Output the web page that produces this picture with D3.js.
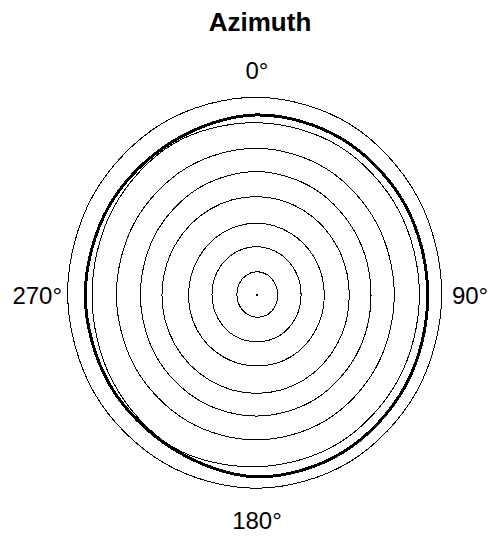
<!DOCTYPE html>
<html>
<head>
<meta charset="utf-8">
<script src="https://cdn.jsdelivr.net/npm/d3@7"></script>
<style>
  body { margin: 0; background: #fff; }
  text { font-family: "Liberation Sans", Arial, sans-serif; fill: #000; }
</style>
</head>
<body>
<div id="chart"></div>
<script>
var wt = 490;
var ht = 537;

// angles in degrees, clockwise from north
var angles = [0, 30, 60, 90, 120, 150, 180, 210, 240, 270, 300, 330];

// pattern cuts (normalised radius)
var cut1 = [0.120, 0.118, 0.113, 0.111, 0.113, 0.116, 0.115, 0.112, 0.109, 0.108, 0.112, 0.117];
var cut2 = [0.249, 0.245, 0.240, 0.237, 0.239, 0.242, 0.241, 0.243, 0.242, 0.242, 0.245, 0.248];
var cut3 = [0.370, 0.366, 0.363, 0.362, 0.364, 0.367, 0.366, 0.367, 0.369, 0.368, 0.368, 0.370];
var cut4 = [0.507, 0.503, 0.498, 0.496, 0.500, 0.505, 0.507, 0.508, 0.510, 0.511, 0.510, 0.509];
var cut5 = [0.636, 0.628, 0.618, 0.613, 0.617, 0.622, 0.624, 0.626, 0.628, 0.627, 0.630, 0.634];
var cut6 = [0.756, 0.750, 0.742, 0.738, 0.741, 0.745, 0.747, 0.750, 0.754, 0.756, 0.757, 0.757];
var cut7 = [0.888, 0.885, 0.878, 0.873, 0.876, 0.881, 0.885, 0.905, 0.895, 0.887, 0.893, 0.900];
var cutMain = [0.928, 0.925, 0.922, 0.918, 0.925, 0.933, 0.937, 0.912, 0.917, 0.923, 0.918, 0.912];
var cutOuter = [1.019, 1.012, 1.000, 0.993, 0.992, 0.994, 0.996, 1.000, 1.010, 1.018, 1.020, 1.021];

var thinCuts = [cut1, cut2, cut3, cut4, cut5, cut6, cut7, cutOuter];

var labelAngles = [0, 90, 180, 270];
var labelText = ["0°", "90°", "180°", "270°"];

var cx = 257, cy = 295;
var rx = 186, ry = 194;

var svg = d3.select("#chart").append("svg")
    .attr("width", wt)
    .attr("height", ht);

var x = d3.scaleLinear().domain([-1, 1]).range([cx - rx, cx + rx]);
var y = d3.scaleLinear().domain([-1, 1]).range([cy + ry, cy - ry]);

var toRad = function (a) { return a * Math.PI / 180; };

var line = d3.line()
    .x(function (d) { return x(d.r * Math.sin(toRad(d.a))); })
    .y(function (d) { return y(d.r * Math.cos(toRad(d.a))); })
    .curve(d3.curveCardinalClosed);

var pts = function (vals) {
    return vals.map(function (v, i) { return { a: angles[i], r: v }; });
};

svg.selectAll(".cut")
    .data(thinCuts)
    .enter().append("path")
    .attr("class", "cut")
    .attr("d", function (d) { return line(pts(d)); })
    .attr("fill", "none")
    .attr("stroke", "#000")
    .attr("stroke-width", 1)
    .attr("shape-rendering", "crispEdges");

svg.append("path")
    .attr("d", line(pts(cutMain)))
    .attr("fill", "none")
    .attr("stroke", "#000")
    .attr("stroke-width", 3)
    .attr("shape-rendering", "crispEdges");

// origin point
svg.append("rect")
    .attr("x", x(0) - 1)
    .attr("y", y(0) - 1)
    .attr("width", 2)
    .attr("height", 2)
    .attr("fill", "#000");

// angle labels: horizontal ones sit just outside the outer cut
var labelRy = 1.16;
var labelRx = 1.048;
svg.selectAll(".lbl")
    .data(labelAngles)
    .enter().append("text")
    .attr("class", "lbl")
    .attr("x", function (d) { return x(labelRx * Math.sin(toRad(d))); })
    .attr("y", function (d) { return y(labelRy * Math.cos(toRad(d))); })
    .attr("dy", "0.36em")
    .attr("text-anchor", function (d) {
        var s = Math.round(Math.sin(toRad(d)));
        return s > 0 ? "start" : (s < 0 ? "end" : "middle");
    })
    .style("font-size", "24px")
    .text(function (d, i) { return labelText[i]; });

svg.append("text")
    .attr("x", 260)
    .attr("y", 31)
    .attr("text-anchor", "middle")
    .style("font-size", "26px")
    .style("font-weight", "bold")
    .text("Azimuth");
</script>
</body>
</html>
